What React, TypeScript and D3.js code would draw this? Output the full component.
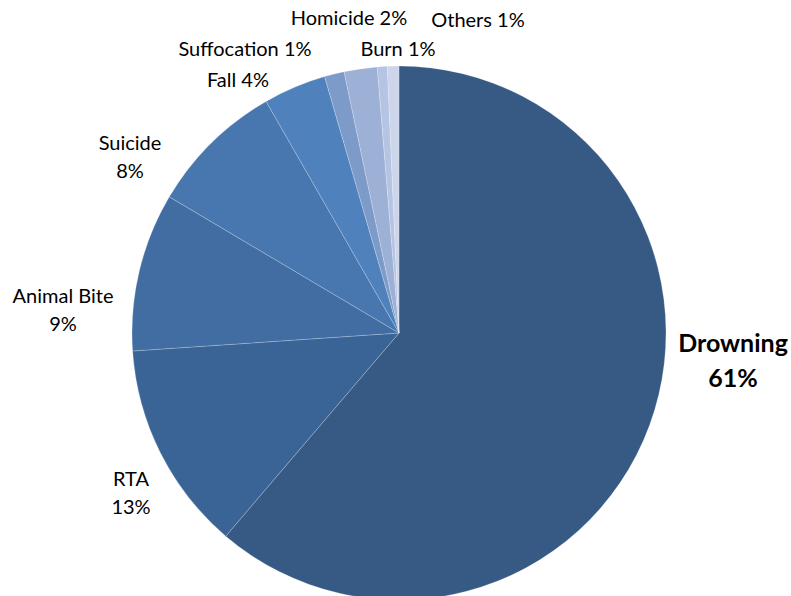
import React from "react";
import * as d3 from "d3";

const categories = ["Drowning", "RTA", "Animal Bite", "Suicide", "Fall", "Suffocation", "Homicide", "Burn", "Others"];
const values = [61.3, 12.7, 9.6, 8.2, 3.8, 1.2, 2.0, 0.6, 0.7];
const labels = ["61%", "13%", "9%", "8%", "4%", "1%", "2%", "1%", "1%"];
const colors = ["#375A84", "#3B6496", "#426DA3", "#4876AF", "#4F81BD", "#7D9BC9", "#9DB1D6", "#B5C4E2", "#CCD5EA"];

// label layout (center x, baseline y of first line)
const labelLayout = [
  { x: 733, y: 352, twoLine: true, bold: true, size: 25 },
  { x: 131, y: 486, twoLine: true },
  { x: 63, y: 303, twoLine: true },
  { x: 130, y: 150, twoLine: true },
  { x: 238, y: 87, twoLine: false },
  { x: 245, y: 56, twoLine: false },
  { x: 349, y: 25, twoLine: false },
  { x: 398, y: 56, twoLine: false },
  { x: 478, y: 27, twoLine: false },
];

export default function App() {
  const width = 791, height = 596;
  const cx = 399, cy = 333, r = 267;
  const pie = d3.pie<number>().sort(null).value((d) => d)(values);
  const arc = d3.arc<d3.PieArcDatum<number>>().innerRadius(0).outerRadius(r);
  const font = "Lato, 'Open Sans', sans-serif";
  return (
    <svg width={width} height={height} style={{ position: "absolute", left: 0, top: 0 }}>
      <rect width={width} height={height} fill="#fff" />
      <g transform={`translate(${cx},${cy})`}>
        {pie.map((p, i) => (
          <path key={i} d={arc(p) || ""} fill={colors[i]} stroke="#ffffff" strokeOpacity={0.35} strokeWidth={0.6} />
        ))}
      </g>
      {labelLayout.map((l, i) => {
        const size = l.size || 20;
        const weight = l.bold ? 700 : 400;
        if (l.twoLine) {
          return (
            <text key={i} x={l.x} y={l.y} textAnchor="middle" fontFamily={font} fontSize={size} fontWeight={weight} fill="#000">
              <tspan x={l.x} dy={0}>{categories[i]}</tspan>
              <tspan x={l.x} dy={l.bold ? 35 : 28}>{labels[i]}</tspan>
            </text>
          );
        }
        return (
          <text key={i} x={l.x} y={l.y} textAnchor="middle" fontFamily={font} fontSize={size} fontWeight={weight} fill="#000">
            {categories[i] + " " + labels[i]}
          </text>
        );
      })}
    </svg>
  );
}
